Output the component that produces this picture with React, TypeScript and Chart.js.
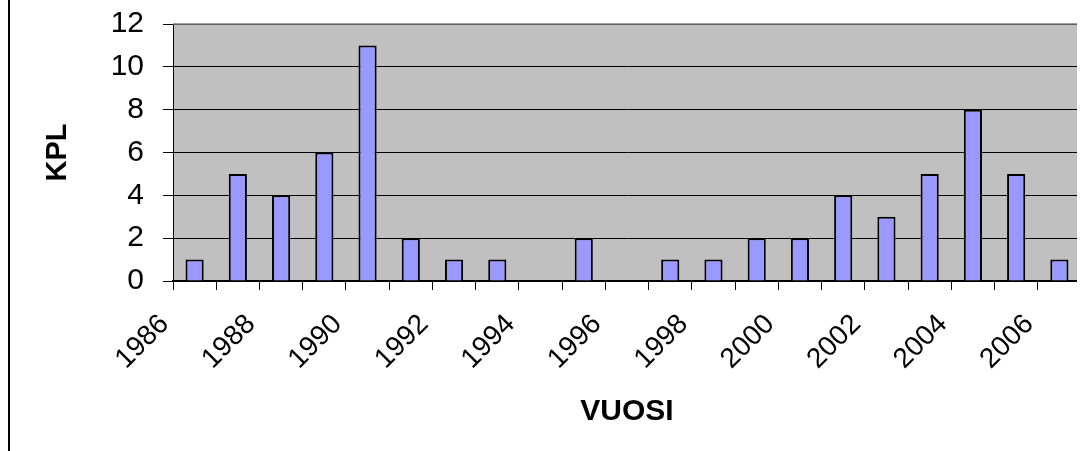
import { useEffect, useRef } from "react";
import { Chart, registerables } from "chart.js";

Chart.register(...registerables);

const categories = [
  "1986", "1987", "1988", "1989", "1990", "1991", "1992", "1993", "1994", "1995",
  "1996", "1997", "1998", "1999", "2000", "2001", "2002", "2003", "2004", "2005", "2006",
];
const values = [1, 5, 4, 6, 11, 2, 1, 1, 0, 2, 0, 1, 1, 2, 2, 4, 3, 5, 8, 5, 1];
const yMin = 0;
const yMax = 12;
const yStep = 2;
const xTitle = "VUOSI";
const yTitle = "KPL";

const FONT = "'Liberation Sans', Arial, sans-serif";

const plotArea = {
  id: "plotArea",
  beforeDraw(chart: any) {
    const { ctx, chartArea } = chart;
    if (!chartArea) return;
    ctx.save();
    ctx.fillStyle = "#C0C0C0";
    ctx.fillRect(chartArea.left, chartArea.top, chartArea.right - chartArea.left, chartArea.bottom - chartArea.top);
    ctx.restore();
  },
  afterDraw(chart: any) {
    const { ctx, chartArea } = chart;
    if (!chartArea) return;
    ctx.save();
    ctx.strokeStyle = "#808080";
    ctx.lineWidth = 1.5;
    ctx.beginPath();
    ctx.moveTo(chartArea.left, chartArea.top);
    ctx.lineTo(chartArea.right, chartArea.top);
    ctx.lineTo(chartArea.right, chartArea.bottom);
    ctx.stroke();
    ctx.restore();
  },
};

export default function App() {
  const ref = useRef<HTMLCanvasElement | null>(null);

  useEffect(() => {
    if (!ref.current) return;
    const chart = new Chart(ref.current, {
      type: "bar",
      data: {
        labels: categories,
        datasets: [
          {
            data: values,
            backgroundColor: "#9999FF",
            borderColor: "#000000",
            borderWidth: 2,
            barPercentage: 0.42,
            categoryPercentage: 1,
          },
        ],
      },
      options: {
        animation: false,
        responsive: false,
        devicePixelRatio: 1,
        layout: { padding: { top: 16, right: 4, left: 0, bottom: 0 } },
        plugins: {
          legend: { display: false },
          tooltip: { enabled: false },
        },
        scales: {
          x: {
            type: "category",
            offset: true,
            afterFit: (s: any) => {
              s.height = 162;
              s.paddingLeft = 0;
              s.paddingRight = 0;
            },
            grid: {
              offset: true,
              drawOnChartArea: false,
              drawTicks: true,
              tickLength: 9,
              tickColor: "#000",
              tickWidth: 1,
              color: "#000",
            },
            border: { display: true, color: "#000", width: 2 },
            ticks: {
              autoSkip: false,
              maxRotation: 45,
              minRotation: 45,
              labelOffset: -30,
              padding: 18,
              color: "#000",
              font: { family: FONT, size: 28 },
              callback: (_v: any, i: number) => (i % 2 === 0 ? categories[i] : ""),
            },
            title: {
              display: true,
              text: xTitle,
              color: "#000",
              font: { family: FONT, size: 30, weight: "bold" },
              padding: { top: 0, bottom: 13 },
            },
          },
          y: {
            min: yMin,
            max: yMax,
            afterFit: (s: any) => {
              s.width = 163;
              s.paddingTop = 0;
              s.paddingBottom = 0;
            },
            grid: {
              color: "#000",
              lineWidth: 1,
              drawTicks: true,
              tickLength: 10,
              tickColor: "#000",
            },
            border: { display: true, color: "#000", width: 1 },
            ticks: {
              stepSize: yStep,
              padding: 19,
              color: "#000",
              font: { family: FONT, size: 30 },
            },
            title: {
              display: true,
              text: yTitle,
              color: "#000",
              font: { family: FONT, size: 29, weight: "bold" },
              padding: { top: 31, bottom: 0 },
            },
          },
        },
      },
      plugins: [plotArea],
    });
    return () => chart.destroy();
  }, []);

  return (
    <div>
      <div style={{ position: "fixed", left: 8, top: 0, width: 2, height: 451, background: "#000" }} />
      <canvas ref={ref} width={1075} height={435} style={{ display: "block", marginLeft: 2 }} />
    </div>
  );
}
